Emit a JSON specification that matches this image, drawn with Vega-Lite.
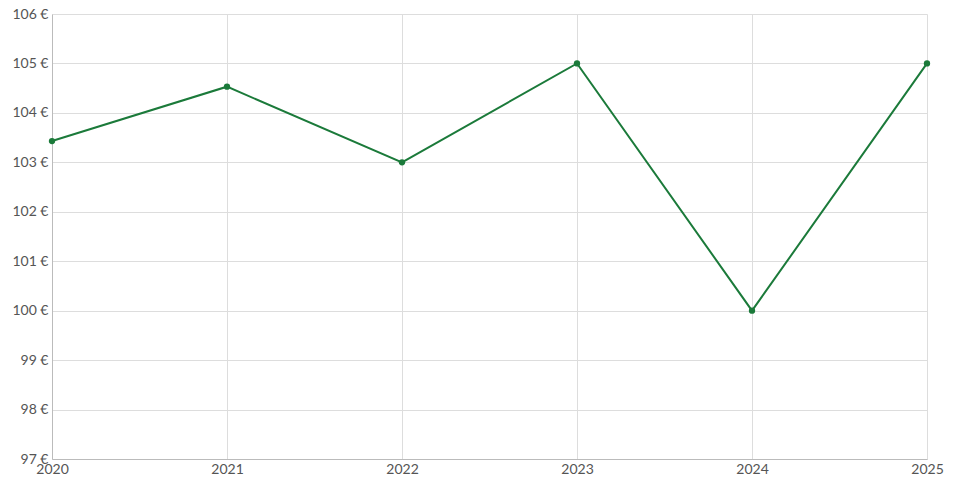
{
  "$schema": "https://vega.github.io/schema/vega-lite/v6.json",
  "autosize": {"type": "none"},
  "width": 875,
  "height": 445,
  "padding": {"left": 52, "top": 14, "right": 47, "bottom": 30},
  "background": "white",
  "config": {
    "view": {"stroke": null},
    "font": "Lato",
    "axis": {"labelFont": "Lato", "labelFontSize": 14, "labelColor": "#555555", "gridColor": "#dddddd", "domainColor": "#bbbbbb", "ticks": false, "title": null}
  },
  "data": {"values": [
    {"year": 2020, "price": 103.43},
    {"year": 2021, "price": 104.53},
    {"year": 2022, "price": 103.0},
    {"year": 2023, "price": 105.0},
    {"year": 2024, "price": 100.0},
    {"year": 2025, "price": 105.0}
  ]},
  "mark": {"type": "line", "color": "#1b7a3a", "strokeWidth": 2, "point": {"filled": true, "size": 40, "color": "#1b7a3a", "opacity": 1}},
  "encoding": {
    "x": {"field": "year", "type": "quantitative", "scale": {"domain": [2020, 2025], "nice": false, "zero": false},
          "axis": {"values": [2020, 2021, 2022, 2023, 2024, 2025], "format": "d", "labelPadding": 3, "labelFlush": false, "labelOverlap": false}},
    "y": {"field": "price", "type": "quantitative", "scale": {"domain": [97, 106], "nice": false, "zero": false},
          "axis": {"values": [97, 98, 99, 100, 101, 102, 103, 104, 105, 106], "labelExpr": "datum.value + ' €'", "labelPadding": 4, "labelFlush": false, "labelOverlap": false}}
  }
}
